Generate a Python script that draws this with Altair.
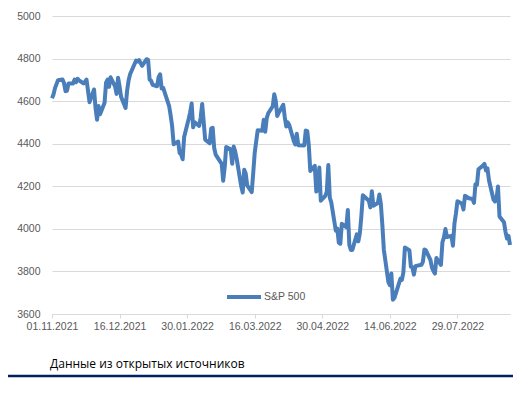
import altair as alt
import pandas as pd

dates = [
    "2021-11-01","2021-11-02","2021-11-03","2021-11-04","2021-11-05","2021-11-08","2021-11-09","2021-11-10",
    "2021-11-11","2021-11-12","2021-11-15","2021-11-16","2021-11-17","2021-11-18","2021-11-19","2021-11-22",
    "2021-11-23","2021-11-24","2021-11-26","2021-11-29","2021-11-30","2021-12-01","2021-12-02","2021-12-03",
    "2021-12-06","2021-12-07","2021-12-08","2021-12-09","2021-12-10","2021-12-13","2021-12-14","2021-12-15",
    "2021-12-16","2021-12-17","2021-12-20","2021-12-21","2021-12-22","2021-12-23","2021-12-27","2021-12-28",
    "2021-12-29","2021-12-30","2021-12-31","2022-01-03","2022-01-04","2022-01-05","2022-01-06","2022-01-07",
    "2022-01-10","2022-01-11","2022-01-12","2022-01-13","2022-01-14","2022-01-18","2022-01-19","2022-01-20",
    "2022-01-21","2022-01-24","2022-01-25","2022-01-26","2022-01-27","2022-01-28","2022-01-31","2022-02-01",
    "2022-02-02","2022-02-03","2022-02-04","2022-02-07","2022-02-08","2022-02-09","2022-02-10","2022-02-11",
    "2022-02-14","2022-02-15","2022-02-16","2022-02-17","2022-02-18","2022-02-22","2022-02-23","2022-02-24",
    "2022-02-25","2022-02-28","2022-03-01","2022-03-02","2022-03-03","2022-03-04","2022-03-07","2022-03-08",
    "2022-03-09","2022-03-10","2022-03-11","2022-03-14","2022-03-15","2022-03-16","2022-03-17","2022-03-18",
    "2022-03-21","2022-03-22","2022-03-23","2022-03-24","2022-03-25","2022-03-28","2022-03-29","2022-03-30",
    "2022-03-31","2022-04-01","2022-04-04","2022-04-05","2022-04-06","2022-04-07","2022-04-08","2022-04-11",
    "2022-04-12","2022-04-13","2022-04-14","2022-04-18","2022-04-19","2022-04-20","2022-04-21","2022-04-22",
    "2022-04-25","2022-04-26","2022-04-27","2022-04-28","2022-04-29","2022-05-02","2022-05-03","2022-05-04",
    "2022-05-05","2022-05-06","2022-05-09","2022-05-10","2022-05-11","2022-05-12","2022-05-13","2022-05-16",
    "2022-05-17","2022-05-18","2022-05-19","2022-05-20","2022-05-23","2022-05-24","2022-05-25","2022-05-26",
    "2022-05-27","2022-05-31","2022-06-01","2022-06-02","2022-06-03","2022-06-06","2022-06-07","2022-06-08",
    "2022-06-09","2022-06-10","2022-06-13","2022-06-14","2022-06-15","2022-06-16","2022-06-17","2022-06-21",
    "2022-06-22","2022-06-23","2022-06-24","2022-06-27","2022-06-28","2022-06-29","2022-06-30","2022-07-01",
    "2022-07-05","2022-07-06","2022-07-07","2022-07-08","2022-07-11","2022-07-12","2022-07-13","2022-07-14",
    "2022-07-15","2022-07-18","2022-07-19","2022-07-20","2022-07-21","2022-07-22","2022-07-25","2022-07-26",
    "2022-07-27","2022-07-28","2022-07-29","2022-08-01","2022-08-02","2022-08-03","2022-08-04","2022-08-05",
    "2022-08-08","2022-08-09","2022-08-10","2022-08-11","2022-08-12","2022-08-15","2022-08-16","2022-08-17",
    "2022-08-18","2022-08-19","2022-08-22","2022-08-23","2022-08-24","2022-08-25","2022-08-26","2022-08-29",
    "2022-08-30","2022-08-31","2022-09-01","2022-09-02",
]

values = [
    4614, 4631, 4661, 4680, 4698, 4702, 4685, 4647,
    4649, 4683, 4683, 4701, 4689, 4705, 4698, 4683,
    4691, 4701, 4595, 4655, 4567, 4513, 4577, 4538,
    4592, 4687, 4701, 4667, 4712, 4669, 4634, 4710,
    4669, 4621, 4568, 4649, 4697, 4726, 4791, 4786,
    4793, 4779, 4766, 4797, 4794, 4701, 4696, 4677,
    4670, 4713, 4726, 4659, 4663, 4577, 4533, 4483,
    4398, 4410, 4356, 4350, 4327, 4432, 4516, 4547,
    4589, 4477, 4501, 4484, 4522, 4587, 4504, 4419,
    4402, 4471, 4475, 4380, 4349, 4305, 4226, 4289,
    4385, 4374, 4306, 4387, 4363, 4329, 4201, 4171,
    4278, 4260, 4204, 4173, 4262, 4358, 4412, 4463,
    4461, 4512, 4456, 4520, 4543, 4576, 4632, 4602,
    4530, 4546, 4583, 4525, 4481, 4500, 4488, 4413,
    4397, 4447, 4393, 4392, 4462, 4459, 4394, 4272,
    4296, 4175, 4184, 4288, 4132, 4155, 4175, 4300,
    4147, 4123, 3991, 4001, 3935, 3930, 4024, 4008,
    4089, 3924, 3901, 3901, 3974, 3941, 3979, 4058,
    4158, 4132, 4101, 4177, 4109, 4121, 4161, 4116,
    4018, 3901, 3750, 3735, 3790, 3667, 3675, 3765,
    3760, 3796, 3912, 3900, 3822, 3819, 3785, 3825,
    3831, 3845, 3903, 3899, 3854, 3819, 3802, 3790,
    3863, 3831, 3937, 3960, 3999, 3962, 3967, 3921,
    4024, 4072, 4130, 4119, 4091, 4155, 4152, 4145,
    4140, 4122, 4210, 4207, 4280, 4297, 4305, 4274,
    4284, 4228, 4138, 4129, 4141, 4199, 4058, 4031,
    3986, 3955, 3967, 3924,
]

series_name = "S&P 500"
x_tick_dates = [(2021, 11, 1), (2021, 12, 16), (2022, 1, 30), (2022, 3, 16),
                (2022, 4, 30), (2022, 6, 14), (2022, 7, 29)]
y_ticks = [3600, 3800, 4000, 4200, 4400, 4600, 4800, 5000]
caption = "Данные из открытых источников"

df = pd.DataFrame({"date": dates, "value": values, "series": series_name})

grey = "#595959"

line = alt.Chart(df).mark_line(strokeWidth=4, strokeJoin="round").encode(
    x=alt.X(
        "date:T",
        scale=alt.Scale(type="utc", domain=[
            alt.DateTime(year=2021, month=11, date=1, utc=True),
            alt.DateTime(year=2022, month=9, date=2, utc=True)], nice=False),
        axis=alt.Axis(
            title=None, values=[alt.DateTime(year=y, month=m, date=d, utc=True) for y, m, d in x_tick_dates],
            labelExpr="utcFormat(datum.value, '%d.%m.%Y')", grid=False,
            domainColor="#d9d9d9", tickColor="#d9d9d9", tickSize=4,
            labelColor=grey, labelFontSize=10.5, labelFont="Liberation Sans",
            labelPadding=3, labelAngle=0, labelOverlap=False, labelFlush=False),
    ),
    y=alt.Y(
        "value:Q",
        scale=alt.Scale(domain=[3600, 5000], nice=False, zero=False),
        axis=alt.Axis(
            title=None, values=y_ticks, format="d", grid=True, gridColor="#d9d9d9",
            domain=False, ticks=False, tickSize=0, labelPadding=12,
            labelColor=grey, labelFontSize=10.5, labelFont="Liberation Sans"),
    ),
    color=alt.Color(
        "series:N",
        scale=alt.Scale(range=["#4a7ebb"]),
        legend=alt.Legend(
            title=None, orient="none", legendX=173, legendY=262,
            symbolType="stroke", symbolSize=1156, symbolStrokeWidth=4,
            labelColor=grey, labelFontSize=10.5, labelFont="Liberation Sans",
            labelOffset=1, padding=0),
    ),
)

cap = alt.Chart(pd.DataFrame({"t": [caption]})).mark_text(
    align="left", baseline="middle", font="Open Sans", fontSize=12, color="#000000"
).encode(text="t:N", x=alt.value(-2), y=alt.value(348))

rule = alt.Chart(pd.DataFrame({"a": [0]})).mark_rule(
    color="#002060", strokeWidth=2.5
).encode(x=alt.value(-44), x2=alt.value(461), y=alt.value(360))

chart = alt.layer(line, cap, rule).properties(
    width=458, height=298,
    autosize=alt.AutoSizeParams(type="none"),
    padding={"left": 44, "top": 8, "right": 3, "bottom": 69},
    background="white",
).configure_view(stroke=None)

chart.save("out.html", embed_options={"renderer": "svg", "actions": False})
